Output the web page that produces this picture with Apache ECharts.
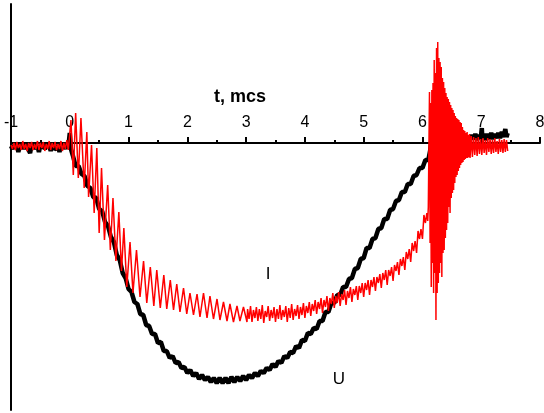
<!DOCTYPE html>
<html><head><meta charset="utf-8">
<script src="https://cdn.jsdelivr.net/npm/echarts@6/dist/echarts.min.js"></script>
<style>html,body{margin:0;padding:0;background:#fff}#c{width:544px;height:413px}</style>
</head><body><div id="c"></div>
<script>
// x-axis tick labels (t, mcs)
const xTickLabels = [-1, 0, 1, 2, 3, 4, 5, 6, 7, 8];
const axisTitle = 't, mcs';
const seriesNames = ['U', 'I'];
const yRange = [-267, 139];

// U (black) — before the pulse
const U_pre = [[-1.000,-3],[-0.975,-6],[-0.950,-2],[-0.925,-5],[-0.900,-1],[-0.875,-9],[-0.850,-3],[-0.825,-5],[-0.800,-2],[-0.775,-6],[-0.750,-1],[-0.725,-4],[-0.700,-3],[-0.675,-10],[-0.650,-2],[-0.625,-5],[-0.600,-1],[-0.575,-6],[-0.550,-3],[-0.525,-9],[-0.500,-2],[-0.475,-5],[-0.450,-1],[-0.425,-6],[-0.400,-3],[-0.375,-4],[-0.350,-2],[-0.325,-8],[-0.300,-1],[-0.275,-5],[-0.250,-3],[-0.225,-6],[-0.200,-2],[-0.175,-9],[-0.150,-1],[-0.125,-5],[-0.100,-2],[-0.075,-6],[-0.050,0],[-0.025,-4],[0.000,10],[0.020,-6]];
// U — main pulse
const U_main = [[0.05,-12],[0.10,-23],[0.15,-23],[0.20,-31],[0.25,-33],[0.30,-43],[0.35,-45],[0.40,-54],[0.45,-55],[0.50,-66],[0.55,-68],[0.60,-79],[0.65,-83],[0.70,-94],[0.75,-99],[0.80,-112],[0.85,-117],[0.90,-130],[0.95,-135],[1.00,-146],[1.05,-149],[1.10,-159],[1.15,-161],[1.20,-171],[1.25,-172],[1.30,-182],[1.35,-183],[1.40,-191],[1.45,-191],[1.50,-200],[1.55,-199],[1.60,-208],[1.65,-208],[1.70,-215],[1.75,-213],[1.80,-220],[1.85,-219],[1.90,-225],[1.95,-224],[2.00,-230],[2.05,-227],[2.10,-233],[2.15,-230],[2.20,-236],[2.25,-232],[2.30,-237],[2.35,-234],[2.40,-239],[2.45,-235],[2.50,-240],[2.55,-235],[2.60,-240],[2.65,-235],[2.70,-240],[2.75,-234],[2.80,-239],[2.85,-234],[2.90,-238],[2.95,-233],[3.00,-237],[3.05,-232],[3.10,-235],[3.15,-230],[3.20,-233],[3.25,-228],[3.30,-230],[3.35,-225],[3.40,-227],[3.45,-221],[3.50,-224],[3.55,-218],[3.60,-220],[3.65,-213],[3.70,-215],[3.75,-209],[3.80,-210],[3.85,-203],[3.90,-205],[3.95,-197],[4.00,-198],[4.05,-190],[4.10,-191],[4.15,-185],[4.20,-186],[4.25,-178],[4.30,-178],[4.35,-169],[4.40,-169],[4.45,-160],[4.50,-160],[4.55,-152],[4.60,-152],[4.65,-144],[4.70,-144],[4.75,-136],[4.80,-135],[4.85,-126],[4.90,-125],[4.95,-116],[5.00,-115],[5.05,-105],[5.10,-105],[5.15,-96],[5.20,-95],[5.25,-86],[5.30,-85],[5.35,-76],[5.40,-76],[5.45,-67],[5.50,-66],[5.55,-58],[5.60,-57],[5.65,-49],[5.70,-49],[5.75,-41],[5.80,-41],[5.85,-33],[5.90,-32],[5.95,-25],[6.00,-25],[6.05,-17],[6.10,-17],[6.13,-8]];
// U — after the pulse
const U_post = [[6.15,2],[6.18,6],[6.21,1],[6.24,5],[6.27,0],[6.30,6],[6.33,2],[6.36,5],[6.39,1],[6.42,6],[6.45,2],[6.48,7],[6.51,1],[6.54,6],[6.57,3],[6.60,7],[6.63,2],[6.66,6],[6.69,3],[6.72,8],[6.75,2],[6.78,7],[6.81,3],[6.84,8],[6.87,4],[6.90,9],[6.93,3],[6.96,8],[6.99,4],[7.01,15],[7.02,4],[7.05,9],[7.08,3],[7.11,9],[7.14,4],[7.17,10],[7.20,4],[7.23,9],[7.26,5],[7.29,10],[7.32,5],[7.35,11],[7.38,6],[7.41,14],[7.43,6],[7.45,10]];

// I (red) — before the pulse
const I_pre = [[-1.000,-2],[-0.975,-6],[-0.950,0],[-0.925,-7],[-0.900,1],[-0.875,-5],[-0.850,-1],[-0.825,-7],[-0.800,2],[-0.775,-6],[-0.750,-1],[-0.725,-8],[-0.700,0],[-0.675,-5],[-0.650,1],[-0.625,-7],[-0.600,-1],[-0.575,-6],[-0.550,2],[-0.525,-7],[-0.500,0],[-0.475,-5],[-0.450,1],[-0.425,-8],[-0.400,-1],[-0.375,-6],[-0.350,2],[-0.325,-7],[-0.300,0],[-0.275,-5],[-0.250,1],[-0.225,-7],[-0.200,-1],[-0.175,-6],[-0.150,2],[-0.125,-8],[-0.100,0],[-0.075,-6],[-0.050,3],[-0.025,-7]];
// I — decaying oscillation on the front
const I_front = [[0.000,-8],[0.020,23],[0.060,-32],[0.100,30],[0.145,-35],[0.190,25],[0.245,-45],[0.290,11],[0.320,-54],[0.370,-2],[0.415,-70],[0.460,-5],[0.500,-90],[0.540,-25],[0.590,-97],[0.645,-42],[0.690,-107],[0.735,-55],[0.785,-118],[0.835,-69],[0.880,-128],[0.920,-85],[0.970,-144],[1.025,-99],[1.075,-150],[1.135,-107],[1.195,-154],[1.255,-118],[1.310,-160],[1.370,-124],[1.430,-163],[1.480,-127],[1.540,-165],[1.600,-132],[1.650,-166],[1.710,-137],[1.765,-167],[1.820,-141],[1.875,-169],[1.935,-145],[1.990,-171],[2.045,-150],[2.105,-172],[2.165,-151],[2.215,-174],[2.275,-150],[2.335,-175],[2.385,-153],[2.445,-176],[2.505,-156],[2.555,-177],[2.615,-159],[2.675,-178],[2.725,-161],[2.785,-179],[2.845,-163],[2.895,-178],[2.955,-164],[3.015,-179]];
// I — plateau and rise
const I_band = [[3.025,-166],[3.05,-176],[3.075,-163],[3.10,-179],[3.125,-167],[3.15,-175],[3.175,-164],[3.20,-178],[3.225,-166],[3.25,-176],[3.275,-162],[3.30,-180],[3.325,-168],[3.35,-174],[3.375,-163],[3.40,-178],[3.425,-167],[3.45,-175],[3.475,-164],[3.50,-179],[3.525,-166],[3.55,-176],[3.575,-162],[3.60,-177],[3.625,-167],[3.65,-174],[3.675,-163],[3.70,-179],[3.725,-165],[3.75,-175],[3.775,-161],[3.80,-177],[3.825,-166],[3.85,-173],[3.875,-162],[3.90,-176],[3.925,-164],[3.95,-172],[3.975,-160],[4.00,-175],[4.025,-163],[4.05,-170],[4.075,-159],[4.10,-173],[4.125,-161],[4.15,-168],[4.175,-157],[4.20,-171],[4.225,-159],[4.25,-166],[4.275,-155],[4.30,-170],[4.325,-157],[4.35,-164],[4.375,-153],[4.40,-168],[4.425,-155],[4.45,-161],[4.475,-150],[4.50,-165],[4.525,-153],[4.55,-160],[4.575,-149],[4.60,-163],[4.625,-151],[4.65,-157],[4.675,-147],[4.70,-162],[4.725,-148],[4.75,-155],[4.775,-144],[4.80,-159],[4.825,-146],[4.85,-152],[4.875,-143],[4.90,-157],[4.925,-143],[4.95,-150],[4.975,-140],[5.00,-154],[5.025,-140],[5.05,-147],[5.075,-137],[5.10,-152],[5.125,-137],[5.15,-144],[5.175,-134],[5.20,-148],[5.225,-134],[5.25,-140],[5.275,-131],[5.30,-145],[5.325,-130],[5.35,-137],[5.375,-127],[5.40,-142],[5.425,-127],[5.45,-133],[5.475,-124],[5.50,-138],[5.525,-122],[5.55,-128],[5.575,-119],[5.60,-132],[5.625,-116],[5.65,-123],[5.675,-114],[5.70,-127],[5.725,-109],[5.75,-116],[5.775,-106],[5.80,-119],[5.825,-100],[5.85,-108],[5.875,-98],[5.90,-110],[5.925,-88],[5.95,-96],[5.975,-86],[6.00,-96],[6.025,-72],[6.05,-80],[6.075,-70],[6.09,-78],[6.10,-64]];
// I — ringing at the end
const I_ring = [[6.12,51],[6.13,-100],[6.14,40],[6.15,-144],[6.16,53],[6.17,-120],[6.18,60],[6.19,-150],[6.20,83],[6.21,-130],[6.22,70],[6.23,-177],[6.24,95],[6.25,-150],[6.26,101],[6.27,-140],[6.28,85],[6.29,-130],[6.30,81],[6.31,-120],[6.32,76],[6.33,-134],[6.34,65],[6.35,-110],[6.36,61],[6.37,-107],[6.38,55],[6.39,-95],[6.40,50],[6.41,-87],[6.42,46],[6.43,-80],[6.44,44],[6.45,-64],[6.46,41],[6.47,-70],[6.48,38],[6.49,-55],[6.50,35],[6.51,-50],[6.52,33],[6.53,-47],[6.54,30],[6.55,-40],[6.56,27],[6.57,-34],[6.58,25],[6.59,-32],[6.60,24],[6.61,-28],[6.62,23],[6.63,-25],[6.64,21],[6.65,-22],[6.66,20],[6.67,-20],[6.68,16],[6.69,-19],[6.70,13],[6.71,-17],[6.72,12],[6.73,-16],[6.74,10],[6.75,-15],[6.76,11],[6.77,-15],[6.78,8],[6.79,-14],[6.80,9],[6.81,-15],[6.83,7],[6.85,-14],[6.87,6],[6.89,-12],[6.91,5],[6.93,-13],[6.95,6],[6.97,-11],[6.99,4],[7.01,-12],[7.03,5],[7.05,-10],[7.07,3],[7.09,-12],[7.11,5],[7.13,-9],[7.15,4],[7.17,-11],[7.19,3],[7.21,-10],[7.23,5],[7.25,-9],[7.27,2],[7.29,-11],[7.31,4],[7.33,-9],[7.35,3],[7.37,-10],[7.39,4],[7.41,-9],[7.43,3],[7.45,-8]];

const U_data = U_pre.concat(U_main, U_post);
const I_data = I_pre.concat(I_front, I_band, I_ring);

const W = 544, H = 413;
const GRID = {left: 11, right: 4, top: 4, bottom: 3};
const gridH = H - GRID.top - GRID.bottom;
// place the x axis at y = 0 (top-positioned axis moved down into the grid)
const zeroOffset = -gridH * yRange[1] / (yRange[1] - yRange[0]);

const chart = echarts.init(document.getElementById('c'), null, {renderer: 'canvas', width: W, height: H});
const FONT = '"Liberation Sans", Arial, sans-serif';
chart.setOption({
  animation: false,
  backgroundColor: '#fff',
  grid: Object.assign({containLabel: false, outerBoundsMode: 'none'}, GRID),
  xAxis: {
    type: 'value', position: 'top', offset: zeroOffset,
    min: xTickLabels[0], max: xTickLabels[xTickLabels.length - 1], interval: 1,
    axisLine: {show: true, onZero: false, lineStyle: {color: '#000', width: 2}},
    axisTick: {show: true, inside: false, length: 6, lineStyle: {color: '#000', width: 2}},
    minorTick: {show: true, splitNumber: 2, length: 3, lineStyle: {color: '#000', width: 2}},
    axisLabel: {show: true, inside: false, margin: 12, fontSize: 16, color: '#000', fontFamily: FONT,
      showMinLabel: true, showMaxLabel: true, hideOverlap: false,
      formatter: v => xTickLabels.includes(v) ? String(v) : ''},
    splitLine: {show: false}
  },
  yAxis: {
    type: 'value', min: yRange[0], max: yRange[1], position: 'left',
    axisLine: {show: true, onZero: false, lineStyle: {color: '#000', width: 2}},
    axisTick: {show: false}, axisLabel: {show: false}, splitLine: {show: false}
  },
  graphic: [
    {type: 'text', x: 240, y: 97, style: {text: axisTitle, font: 'bold 18px ' + FONT, fill: '#000', textAlign: 'center', textVerticalAlign: 'middle'}},
    {type: 'text', x: 268, y: 274, style: {text: seriesNames[1], font: '17px ' + FONT, fill: '#000', textAlign: 'center', textVerticalAlign: 'middle'}},
    {type: 'text', x: 339, y: 379, style: {text: seriesNames[0], font: '17px ' + FONT, fill: '#000', textAlign: 'center', textVerticalAlign: 'middle'}}
  ],
  series: [
    {name: seriesNames[0], type: 'line', data: U_data, showSymbol: false, symbol: 'none', z: 2,
      lineStyle: {color: '#000', width: 4.5}, sampling: null},
    {name: seriesNames[1], type: 'line', data: I_data, showSymbol: false, symbol: 'none', z: 3,
      lineStyle: {color: '#ff0000', width: 1.5}, sampling: null}
  ]
});
</script>
</body></html>
